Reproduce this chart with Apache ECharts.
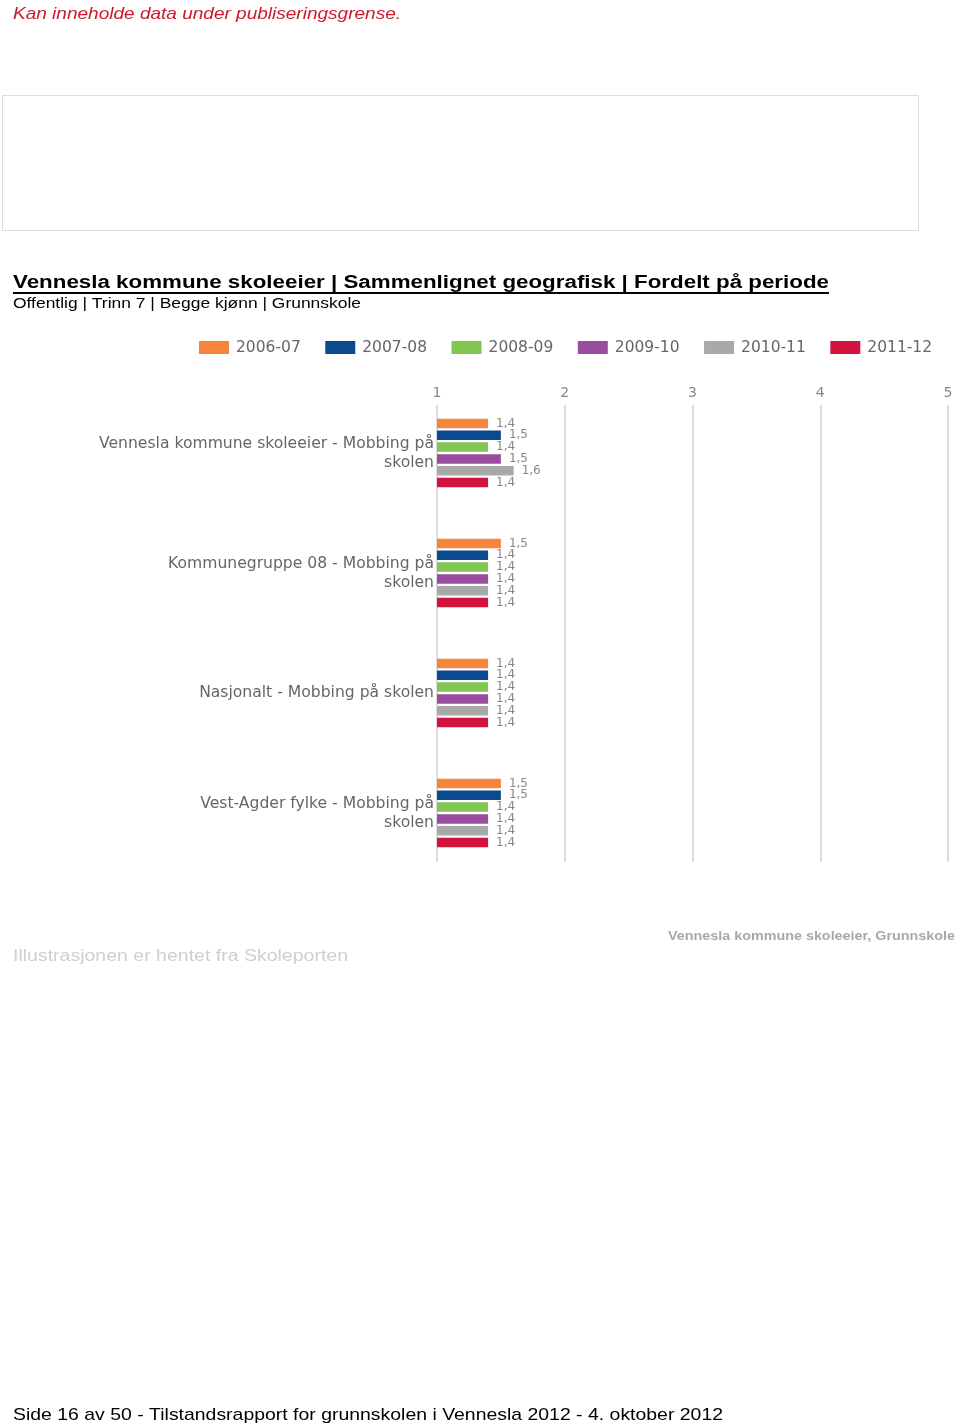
<!DOCTYPE html>
<html><head><meta charset="utf-8">
<script src="https://cdn.jsdelivr.net/npm/echarts@6/dist/echarts.min.js"></script>
<style>html,body{margin:0;padding:0;background:#fff}#c{width:960px;height:1428px}</style>
</head><body><div id="c"></div>
<script>
const categories = [
  "Vennesla kommune skoleeier - Mobbing på\nskolen",
  "Kommunegruppe 08 - Mobbing på\nskolen",
  "Nasjonalt - Mobbing på skolen",
  "Vest-Agder fylke - Mobbing på\nskolen"
];
const periods = ["2006-07", "2007-08", "2008-09", "2009-10", "2010-11", "2011-12"];
const v2006 = [1.4, 1.5, 1.4, 1.5];
const v2007 = [1.5, 1.4, 1.4, 1.5];
const v2008 = [1.4, 1.4, 1.4, 1.4];
const v2009 = [1.5, 1.4, 1.4, 1.4];
const v2010 = [1.6, 1.4, 1.4, 1.4];
const v2011 = [1.4, 1.4, 1.4, 1.4];
const axisTicks = [1, 2, 3, 4, 5];
const colors = ["#f5853a", "#0b4a8f", "#82c552", "#9a4c9e", "#a9a9a9", "#d2123f"];

const seriesValues = [v2006, v2007, v2008, v2009, v2010, v2011];

const measure = document.createElement('canvas').getContext('2d');
function fit(text, font, target) {
  measure.font = font;
  return target / measure.measureText(text).width;
}
function txt(text, x, y, font, fill, target, align) {
  const s = fit(text, font, target);
  return {
    type: 'text', x: x, y: y, scaleX: s, originX: 0, silent: true,
    style: { text: text, x: 0, y: 0, font: font, fill: fill, textAlign: align || 'left', textVerticalAlign: 'middle' }
  };
}

const chart = echarts.init(document.getElementById('c'), null, { renderer: 'canvas' });

const titleText = "Vennesla kommune skoleeier | Sammenlignet geografisk | Fordelt på periode";

const option = {
  backgroundColor: '#ffffff',
  animation: false,
  color: colors,
  legend: {
    data: periods,
    left: 199, top: 339.5, padding: 0,
    itemWidth: 30, itemHeight: 13, itemGap: 24.5,
    icon: 'rect',
    textStyle: { fontFamily: 'DejaVu Sans', fontSize: 15.5, color: '#666', padding: [0, 0, 0, 2] }
  },
  grid: [
    { left: 437, right: 12, top: 405, bottom: 566 },
    { left: 437, right: 12, top: 393, height: 480 }
  ],
  xAxis: [
    {
      gridIndex: 0, type: 'value', min: 1, max: 5, interval: 1, position: 'top',
      axisLine: { show: false }, axisTick: { show: false },
      axisLabel: { margin: 5, fontFamily: 'DejaVu Sans', fontSize: 14, color: '#888',
        formatter: v => axisTicks.includes(v) ? String(v) : '' },
      splitLine: { show: true, lineStyle: { color: '#dcdcdc', width: 2 } }
    },
    {
      gridIndex: 1, type: 'value', min: 1, max: 5, show: false
    }
  ],
  yAxis: [
    { gridIndex: 0, type: 'category', data: categories, show: false, inverse: true },
    {
      gridIndex: 1, type: 'category', data: categories, inverse: true,
      axisLine: { show: false }, axisTick: { show: false }, splitLine: { show: false },
      axisLabel: { margin: 3, fontFamily: 'DejaVu Sans', fontSize: 15.6, color: '#666', lineHeight: 19, align: 'right' }
    }
  ],
  series: periods.map((p, i) => ({
    name: p, type: 'bar', xAxisIndex: 1, yAxisIndex: 1,
    data: seriesValues[i],
    barWidth: 9.5, barGap: '24%',
    itemStyle: { color: colors[i] },
    label: {
      show: true, position: 'right', distance: 8,
      fontFamily: 'DejaVu Sans', fontSize: 12, color: '#888',
      formatter: d => d.value.toFixed(1).replace('.', ',')
    }
  })),
  graphic: [
    txt("Kan inneholde data under publiseringsgrense.", 13, 14, 'italic 17px "Liberation Sans"', '#cc1a2a', 388),
    { type: 'rect', silent: true, shape: { x: 2.5, y: 95.5, width: 916, height: 135 },
      style: { fill: '#fff', stroke: '#dddddd', lineWidth: 1 } },
    txt(titleText, 13, 283, 'bold 18px "Liberation Sans"', '#000', 816),
    { type: 'line', silent: true, shape: { x1: 13, y1: 293, x2: 829, y2: 293 }, style: { stroke: '#000', lineWidth: 2 } },
    txt("Offentlig | Trinn 7 | Begge kjønn | Grunnskole", 13, 303.5, '15px "Liberation Sans"', '#000', 348),
    txt("Illustrasjonen er hentet fra Skoleporten", 13, 957, '16px "Liberation Sans"', '#cfcfcf', 335),
    txt("Vennesla kommune skoleeier, Grunnskole", 668, 936, 'bold 13px "Liberation Sans"', '#a8a8a8', 287),
    txt("Side 16 av 50 - Tilstandsrapport for grunnskolen i Vennesla 2012 - 4. oktober 2012", 13, 1415, '17px "Liberation Sans"', '#000', 710)
  ]
};
chart.setOption(option);
</script>
</body></html>
